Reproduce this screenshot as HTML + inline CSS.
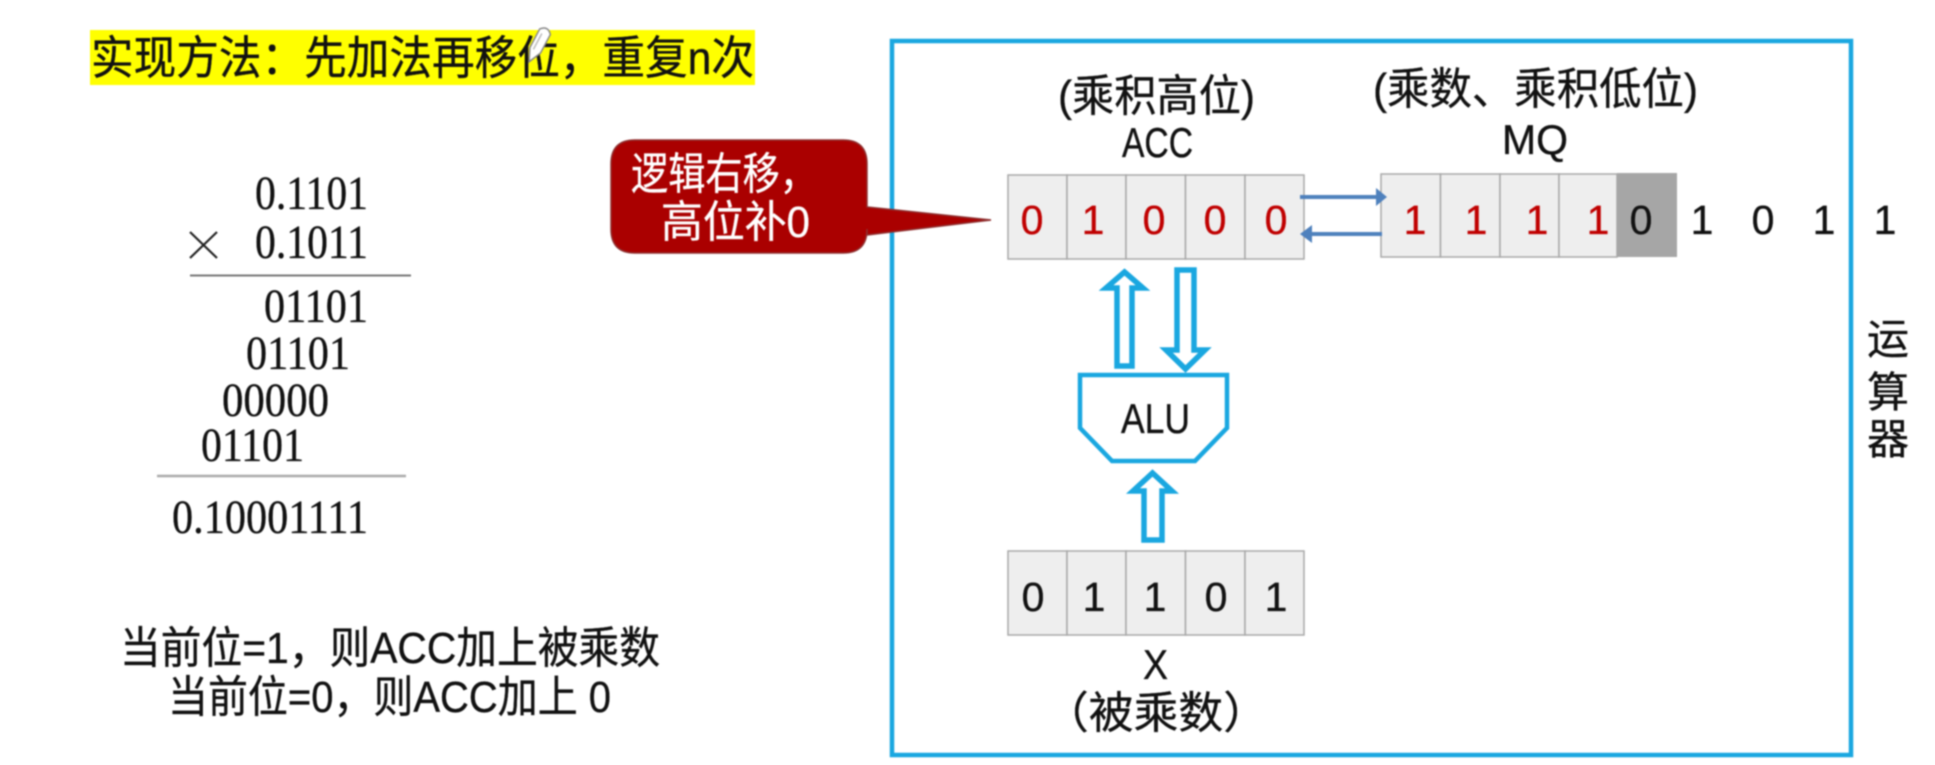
<!DOCTYPE html>
<html lang="zh">
<head>
<meta charset="utf-8">
<title>原码一位乘法</title>
<style>
html,body{margin:0;padding:0;background:#fff;width:1935px;height:765px;overflow:hidden}
svg{display:block;filter:blur(.7px)}
text{fill:#111;stroke:#111;stroke-width:.35px}
.w{fill:#fff;stroke:#fff}
.r{fill:#c00000;stroke:#c00000}
.c{font-family:"Liberation Sans","Noto Sans CJK SC",sans-serif}
.s{font-family:"Liberation Serif",serif}
</style>
</head>
<body>
<svg width="1935" height="765" viewBox="0 0 1935 765" xmlns="http://www.w3.org/2000/svg">
<rect width="1935" height="765" fill="#fff"/>

<!-- title -->
<rect x="90" y="30" width="665" height="55" fill="#ffff00"/>
<text class="c" x="91" y="74" font-size="46" textLength="663" lengthAdjust="spacingAndGlyphs">实现方法：先加法再移位，重复n次</text>
<g transform="translate(538 45) rotate(28)"><path d="M-6 -15 Q0 -22 6 -15 L6 6 L0 19 L-6 6 Z" fill="#fff" stroke="#888" stroke-width="1.500"/><path d="M-2 -12 L-2 6" stroke="#bbb" stroke-width="1.500"/></g>

<!-- calculation -->
<g class="s" font-size="48">
<text x="255" y="209" textLength="113" lengthAdjust="spacingAndGlyphs">0.1101</text>
<text x="255" y="258" textLength="113" lengthAdjust="spacingAndGlyphs">0.1011</text>
<text x="264" y="322" textLength="104" lengthAdjust="spacingAndGlyphs">01101</text>
<text x="246" y="369" textLength="104" lengthAdjust="spacingAndGlyphs">01101</text>
<text x="222" y="416" textLength="107" lengthAdjust="spacingAndGlyphs">00000</text>
<text x="201" y="461" textLength="103" lengthAdjust="spacingAndGlyphs">01101</text>
<text x="172" y="533" textLength="196" lengthAdjust="spacingAndGlyphs">0.10001111</text>
</g>
<path d="M190 232 L217 258 M217 232 L190 258" stroke="#222" stroke-width="2.200" fill="none"/>
<line x1="190" y1="275.500" x2="411" y2="275.500" stroke="#777" stroke-width="2"/>
<line x1="157" y1="476" x2="406" y2="476" stroke="#aaa" stroke-width="2.500"/>

<!-- notes -->
<text class="c" x="120" y="663" font-size="44" textLength="540" lengthAdjust="spacingAndGlyphs">当前位=1，则ACC加上被乘数</text>
<text class="c" x="168" y="712" font-size="44" textLength="443" lengthAdjust="spacingAndGlyphs">当前位=0，则ACC加上 0</text>

<!-- frame -->
<rect x="892" y="41" width="959" height="714" fill="none" stroke="#1aa7e0" stroke-width="4.500"/>

<!-- callout -->
<path d="M635 140 H843 Q867 140 867 164 V207 L991 220 L867 235 V229 Q867 253 843 253 H635 Q611 253 611 229 V164 Q611 140 635 140 Z" fill="#aa0000" stroke="#8f3030" stroke-width="1.500"/>
<text class="c w" x="631" y="189" font-size="44" textLength="186" lengthAdjust="spacingAndGlyphs">逻辑右移，</text>
<text class="c w" x="661" y="237" font-size="44" textLength="149" lengthAdjust="spacingAndGlyphs">高位补0</text>

<!-- labels -->
<text class="c" x="1058" y="111" font-size="44" textLength="197" lengthAdjust="spacingAndGlyphs">(乘积高位)</text>
<text class="c" x="1122" y="157" font-size="42" textLength="71" lengthAdjust="spacingAndGlyphs">ACC</text>
<text class="c" x="1373" y="104" font-size="44" textLength="325" lengthAdjust="spacingAndGlyphs">(乘数、乘积低位)</text>
<text class="c" x="1502" y="154" font-size="42" textLength="66" lengthAdjust="spacingAndGlyphs">MQ</text>

<!-- ACC -->
<g fill="#eeeeee" stroke="#a8a8a8" stroke-width="1.500">
<rect x="1008" y="175" width="59" height="84"/><rect x="1067" y="175" width="59" height="84"/><rect x="1126" y="175" width="59.500" height="84"/><rect x="1185.500" y="175" width="59.500" height="84"/><rect x="1245" y="175" width="59" height="84"/>
</g>
<!-- MQ -->
<g fill="#eeeeee" stroke="#a8a8a8" stroke-width="1.500">
<rect x="1381" y="174" width="59.500" height="83"/><rect x="1440.500" y="174" width="59.500" height="83"/><rect x="1500" y="174" width="59" height="83"/><rect x="1559" y="174" width="58" height="83"/>
</g>
<rect x="1617" y="173" width="60" height="84" fill="#a6a6a6"/>
<!-- X -->
<g fill="#eeeeee" stroke="#a8a8a8" stroke-width="1.500">
<rect x="1008" y="551" width="59" height="84"/><rect x="1067" y="551" width="59" height="84"/><rect x="1126" y="551" width="59.500" height="84"/><rect x="1185.500" y="551" width="59.500" height="84"/><rect x="1245" y="551" width="59" height="84"/>
</g>

<!-- digits -->
<g class="c" font-size="41" text-anchor="middle">
<text class="r" x="1032" y="234">0</text><text class="r" x="1093" y="234">1</text><text class="r" x="1154" y="234">0</text><text class="r" x="1215" y="234">0</text><text class="r" x="1276" y="234">0</text>
<text class="r" x="1415" y="234">1</text><text class="r" x="1476" y="234">1</text><text class="r" x="1537" y="234">1</text><text class="r" x="1598" y="234">1</text>
<text x="1641" y="234">0</text><text x="1702" y="234">1</text><text x="1763" y="234">0</text><text x="1824" y="234">1</text><text x="1885" y="234">1</text>
<text x="1033" y="611">0</text><text x="1094" y="611">1</text><text x="1155" y="611">1</text><text x="1216" y="611">0</text><text x="1276" y="611">1</text>
</g>

<!-- small arrows -->
<g fill="#4f81bd" stroke="none">
<rect x="1300" y="195" width="78" height="4"/><path d="M1376 188 L1387 197 L1376 206 Z"/>
<rect x="1310" y="232" width="72" height="4"/><path d="M1312 225 L1300 234 L1312 243 Z"/>
</g>

<!-- hollow arrows -->
<g fill="#fff" stroke="#1aa7e0" stroke-width="5.500" stroke-linejoin="miter">
<path d="M1124.500 272 L1143 288 H1132 V366 H1117 V288 H1106 Z"/>
<path d="M1177 270 H1194 V350 H1205 L1185.500 369 L1166 350 H1177 Z"/>
<path d="M1152.500 473 L1172 491 H1162 V540 H1144 V491 H1133 Z"/>
</g>

<!-- ALU -->
<path d="M1080 375 H1227 V428 L1195 461 H1112 L1080 428 Z" fill="#fff" stroke="#1aa7e0" stroke-width="4.500"/>
<text class="c" x="1121" y="433" font-size="42" textLength="69" lengthAdjust="spacingAndGlyphs">ALU</text>

<!-- X label -->
<text class="c" x="1143" y="679" font-size="42" textLength="25" lengthAdjust="spacingAndGlyphs">X</text>
<text class="c" x="1044" y="728" font-size="44" textLength="224" lengthAdjust="spacingAndGlyphs">（被乘数）</text>

<!-- side label -->
<g class="c" font-size="42" text-anchor="middle">
<text x="1888" y="354">运</text>
<text x="1888" y="407">算</text>
<text x="1888" y="454">器</text>
</g>
</svg>
</body>
</html>
